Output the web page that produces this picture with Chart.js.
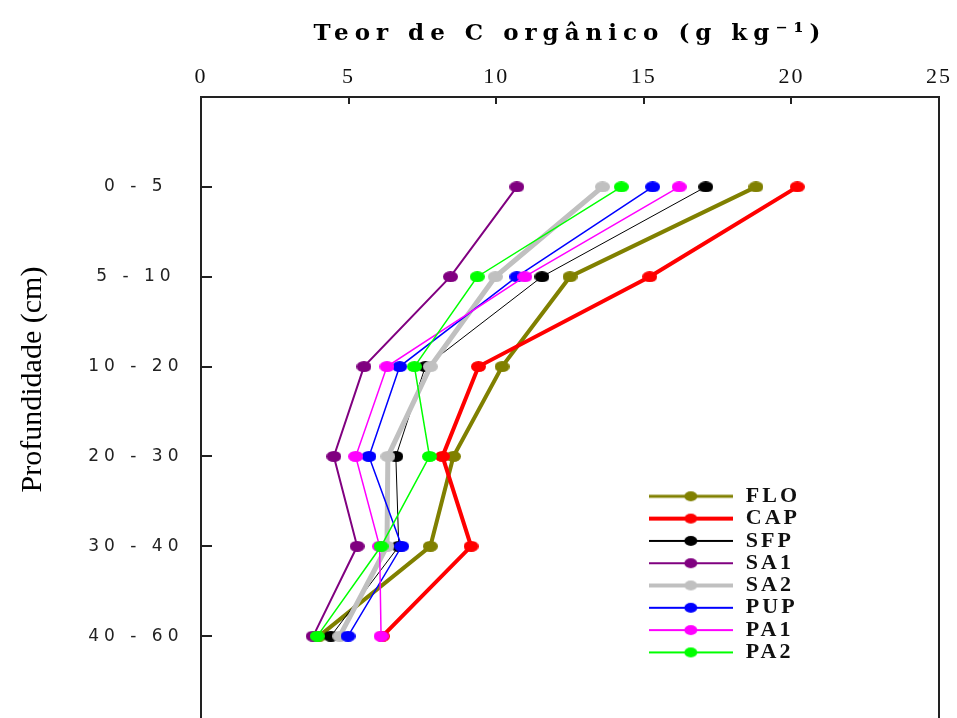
<!DOCTYPE html>
<html lang="pt">
<head>
<meta charset="utf-8">
<title>Teor de C orgânico</title>
<script src="https://cdn.jsdelivr.net/npm/chart.js@4.4.1/dist/chart.umd.min.js"></script>
<style>
html,body{margin:0;padding:0;background:#fff;overflow:hidden;}
#wrap{width:957px;height:737px;}
</style>
</head>
<body>
<div id="wrap"><canvas id="chart" width="957" height="737"></canvas></div>
<script>
// ---- categories / ticks ----
const depths = ['0 - 5', '5 - 10', '10 - 20', '20 - 30', '30 - 40', '40 - 60'];
const xTickValues = [0, 5, 10, 15, 20, 25];
const seriesNames = ['FLO', 'CAP', 'SFP', 'SA1', 'SA2', 'PUP', 'PA1', 'PA2'];

// ---- series values (g kg-1), one per depth ----
const FLO = [18.8, 12.5, 10.2, 8.55, 7.77, 4.0];
const CAP = [20.2, 15.2, 9.4, 8.18, 9.15, 6.15];
const SFP = [17.1, 11.55, 7.6, 6.6, 6.7, 4.4];
const SA1 = [10.7, 8.45, 5.52, 4.5, 5.29, 3.8];
const SA2 = [13.6, 9.97, 7.77, 6.33, 6.3, 4.7];
const PUP = [15.3, 10.7, 6.73, 5.69, 6.8, 4.98];
const PA1 = [16.2, 10.97, 6.3, 5.24, 6.05, 6.1];
const PA2 = [14.24, 9.36, 7.23, 7.74, 6.1, 3.94];
const seriesValues = [FLO, CAP, SFP, SA1, SA2, PUP, PA1, PA2];

// ---- styles ----
const seriesColors = ['#808000', '#ff0000', '#000000', '#800080', '#c0c0c0', '#0000ff', '#ff00ff', '#00ff00'];
const lineWidths = [4, 4, 1, 2, 5, 1.5, 1.5, 1.5];
const legendLineWidths = [3, 4, 2, 2, 4, 2, 2, 2];

// blank category before and after the depths gives the empty bands above/below
const yLabels = [''].concat(depths, [' ']);

function ellipseIcon(color, w, h) {
  const c = document.createElement('canvas');
  c.width = w; c.height = h;
  const g = c.getContext('2d');
  g.fillStyle = color;
  g.beginPath();
  g.ellipse(w / 2, h / 2, w / 2, h / 2, 0, 0, Math.PI * 2);
  g.fill();
  return c;
}
function legendIcon(color, lw) {
  const c = document.createElement('canvas');
  c.width = 84; c.height = 12;
  const g = c.getContext('2d');
  g.strokeStyle = color; g.lineWidth = lw;
  g.beginPath(); g.moveTo(0, 6); g.lineTo(84, 6); g.stroke();
  g.fillStyle = color;
  g.beginPath(); g.ellipse(42, 6, 6.5, 5, 0, 0, Math.PI * 2); g.fill();
  return c;
}
const markerIcons = seriesColors.map(c => ellipseIcon(c, 15, 11));
const legendIcons = seriesColors.map((c, i) => legendIcon(c, legendLineWidths[i]));

const datasets = seriesNames.map((name, i) => ({
  label: name,
  data: [null].concat(seriesValues[i], [null]),
  borderColor: seriesColors[i],
  backgroundColor: seriesColors[i],
  borderWidth: lineWidths[i],
  pointStyle: markerIcons[i],
  pointRadius: 6,
  tension: 0,
  fill: false,
  order: seriesNames.length - i
}));

function withSpacing(obj, method, spacing, dx, dy) {
  if (!obj || obj['_ls_' + method]) return;
  const orig = obj[method];
  obj[method] = function () {
    const ctx = this.ctx;
    ctx.save();
    ctx.letterSpacing = spacing;
    if (dx || dy) ctx.translate(dx || 0, dy || 0);
    const r = orig.apply(this, arguments);
    ctx.restore();
    return r;
  };
  obj['_ls_' + method] = true;
}

const decor = {
  id: 'decor',
  afterLayout(chart) {
    const lg = chart.legend;
    if (!lg) return;
    lg.left = 646.5; lg.top = 485;
    lg.right = lg.left + lg.width + 80; lg.bottom = lg.top + 200;
  },
  beforeDraw(chart) {
    const {x, y} = chart.scales;
    withSpacing(x, 'drawLabels', '2px');
    withSpacing(y, 'drawLabels', '5px');
    withSpacing(x, 'drawTitle', '6px');
    withSpacing(y, 'drawTitle', '0px', 0, -32);
    withSpacing(chart.legend, 'draw', '3px');
  },
  afterDatasetsDraw(chart) {
    const {ctx, chartArea: a, scales: {x, y}} = chart;
    ctx.save();
    ctx.strokeStyle = '#222';
    ctx.lineWidth = 2;
    ctx.beginPath();
    y.ticks.forEach((t, i) => {
      if (!String(y.getLabelForValue(t.value)).trim()) return;
      const py = Math.round(y.getPixelForTick(i));
      ctx.moveTo(a.left, py); ctx.lineTo(a.left + 11, py);
    });
    x.ticks.forEach((t, i) => {
      if (t.value <= x.min || t.value >= x.max) return;
      const px = Math.round(x.getPixelForTick(i));
      ctx.moveTo(px, a.top); ctx.lineTo(px, a.top + 7);
    });
    ctx.moveTo(a.right, a.top); ctx.lineTo(a.right, a.bottom);
    ctx.stroke();
    ctx.restore();
  }
};

new Chart(document.getElementById('chart'), {
  type: 'line',
  data: { labels: yLabels, datasets },
  options: {
    responsive: false,
    animation: false,
    devicePixelRatio: 1,
    indexAxis: 'y',
    layout: { padding: { left: 0, right: 14, top: 0, bottom: 3 } },
    plugins: {
      tooltip: { enabled: false },
      title: { display: false },
      legend: {
        position: 'chartArea',
        fullSize: false,
        align: 'start',
        labels: {
          usePointStyle: true,
          pointStyleWidth: 88,
          padding: 0.3,
          color: '#111',
          font: { family: 'Liberation Serif', size: 22, weight: 'bold' },
          generateLabels: (ch) => ch.data.datasets.map((ds, i) => ({
            text: ds.label,
            pointStyle: legendIcons[i],
            fillStyle: seriesColors[i],
            strokeStyle: seriesColors[i],
            lineWidth: 0,
            hidden: false,
            fontColor: '#111',
            datasetIndex: i
          }))
        }
      }
    },
    scales: {
      x: {
        type: 'linear',
        position: 'top',
        min: 0,
        max: 25,
        afterBuildTicks: s => { s.ticks = xTickValues.map(v => ({ value: v })); },
        afterFit: s => { s.height = 97; },
        ticks: { color: '#111', font: { family: 'Liberation Serif', size: 22 }, padding: 7, maxRotation: 0 },
        grid: { drawOnChartArea: false, drawTicks: false },
        border: { display: true, color: '#222', width: 2 },
        title: {
          display: true,
          text: 'Teor de C orgânico (g kg⁻¹)',
          color: '#000',
          font: { family: 'DejaVu Serif', size: 23, weight: 'bold' },
          padding: { top: 20, bottom: 0 }
        }
      },
      y: {
        type: 'category',
        offset: false,
        afterFit: s => { s.width = 201; s.paddingTop = 0; s.paddingBottom = 0; },
        ticks: { autoSkip: false, crossAlign: 'center', padding: 35, color: '#222', font: { family: 'DejaVu Sans', size: 17 } },
        grid: { drawOnChartArea: false, drawTicks: false },
        border: { display: true, color: '#222', width: 2 },
        title: {
          display: true,
          text: 'Profundidade (cm)',
          color: '#000',
          font: { family: 'Liberation Serif', size: 30 },
          padding: { top: 15, bottom: 0 }
        }
      }
    }
  },
  plugins: [decor]
});
</script>
</body>
</html>
